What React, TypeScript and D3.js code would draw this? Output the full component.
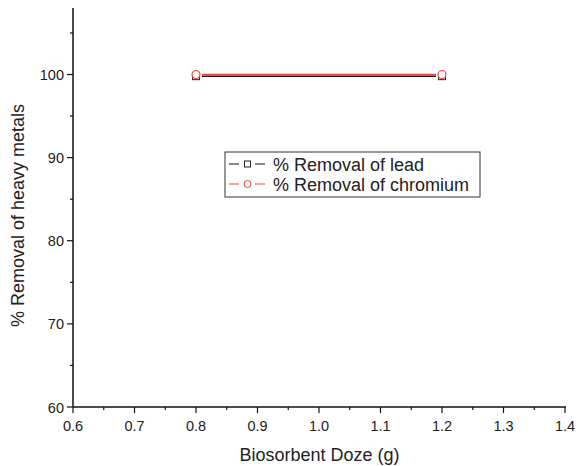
import React from 'react';
import * as d3 from 'd3';

const doses = [0.8, 1.2];
const leadRemoval = [99.8, 99.8];
const chromiumRemoval = [100, 100];
const xTicks = [0.6, 0.7, 0.8, 0.9, 1.0, 1.1, 1.2, 1.3, 1.4];
const yTicks = [60, 70, 80, 90, 100];
const xMinor = [0.65, 0.75, 0.85, 0.95, 1.05, 1.15, 1.25, 1.35];
const yMinor = [65, 75, 85, 95, 105];

const W = 581;
const H = 466;
const margin = { top: 8, right: 15, bottom: 59, left: 73 };
const font = 'Liberation Sans, Arial, sans-serif';

export default function App() {
  const x = d3.scaleLinear().domain([0.6, 1.4]).range([margin.left, W - margin.right - 1]);
  const y = d3.scaleLinear().domain([60, 108]).range([H - margin.bottom, margin.top]);
  const x0 = margin.left;
  const y0 = H - margin.bottom;

  const lead = doses.map((d, i) => ({ x: x(d), y: y(leadRemoval[i]) }));
  const chrom = doses.map((d, i) => ({ x: x(d), y: y(chromiumRemoval[i]) }));
  const gap = 6;

  return (
    <svg width={W} height={H} style={{ position: 'absolute', left: 0, top: 0, background: '#fff' }}>
      {/* series lines, with gaps round the markers */}
      <line x1={lead[0].x + gap} x2={lead[1].x - gap} y1={lead[0].y} y2={lead[1].y} stroke="#111" strokeWidth={1.5} />
      <line x1={chrom[0].x + gap} x2={chrom[1].x - gap} y1={chrom[0].y} y2={chrom[1].y} stroke="#e8463f" strokeWidth={1.5} />
      {lead.map((p, i) => (
        <rect key={'s' + i} x={p.x - 3.5} y={p.y - 3.5} width={7} height={7} fill="none" stroke="#222" strokeWidth={1} />
      ))}
      {chrom.map((p, i) => (
        <circle key={'c' + i} cx={p.x} cy={p.y} r={4} fill="#fff" stroke="#e8463f" strokeWidth={1.2} />
      ))}

      {/* axes */}
      <line x1={x0} x2={x0} y1={margin.top} y2={y0} stroke="#111" strokeWidth={1.5} />
      <line x1={x0} x2={W - margin.right} y1={y0} y2={y0} stroke="#111" strokeWidth={1.5} />
      {xTicks.map(t => (
        <g key={'xt' + t}>
          <line x1={x(t)} x2={x(t)} y1={y0} y2={y0 + 6} stroke="#111" strokeWidth={1.2} />
          <text x={x(t)} y={y0 + 24} textAnchor="middle" fontFamily={font} fontSize={14.5} fill="#222">{t.toFixed(1)}</text>
        </g>
      ))}
      {xMinor.map(t => (
        <line key={'xm' + t} x1={x(t)} x2={x(t)} y1={y0} y2={y0 + 3} stroke="#111" strokeWidth={1.2} />
      ))}
      {yTicks.map(t => (
        <g key={'yt' + t}>
          <line x1={x0 - 6} x2={x0} y1={y(t)} y2={y(t)} stroke="#111" strokeWidth={1.2} />
          <text x={x0 - 9} y={y(t) + 5.5} textAnchor="end" fontFamily={font} fontSize={14.5} fill="#222">{t}</text>
        </g>
      ))}
      {yMinor.map(t => (
        <line key={'ym' + t} x1={x0 - 3} x2={x0} y1={y(t)} y2={y(t)} stroke="#111" strokeWidth={1.2} />
      ))}

      {/* axis titles */}
      <text x={(x0 + W - margin.right) / 2} y={H - 5} textAnchor="middle" fontFamily={font} fontSize={18} fill="#222">Biosorbent Doze (g)</text>
      <text transform={`translate(24,${(margin.top + y0) / 2 + 8}) rotate(-90)`} textAnchor="middle" fontFamily={font} fontSize={18} fill="#222">% Removal of heavy metals</text>

      {/* legend */}
      <g transform="translate(225,152)">
        <rect x={0} y={0} width={255} height={45} fill="#fff" stroke="#333" strokeWidth={1} />
        <line x1={4} x2={14} y1={12} y2={12} stroke="#111" strokeWidth={1} />
        <rect x={19.5} y={9} width={6} height={6} fill="none" stroke="#222" strokeWidth={1} />
        <line x1={30} x2={40} y1={12} y2={12} stroke="#111" strokeWidth={1} />
        <text x={48} y={18.5} fontFamily={font} fontSize={18} fill="#222">% Removal of lead</text>
        <line x1={4} x2={14} y1={32} y2={32} stroke="#e8463f" strokeWidth={1} />
        <circle cx={22.5} cy={32} r={3.5} fill="#fff" stroke="#e8463f" strokeWidth={1} />
        <line x1={30} x2={40} y1={32} y2={32} stroke="#e8463f" strokeWidth={1} />
        <text x={48} y={38.5} fontFamily={font} fontSize={18} fill="#222">% Removal of chromium</text>
      </g>
    </svg>
  );
}
